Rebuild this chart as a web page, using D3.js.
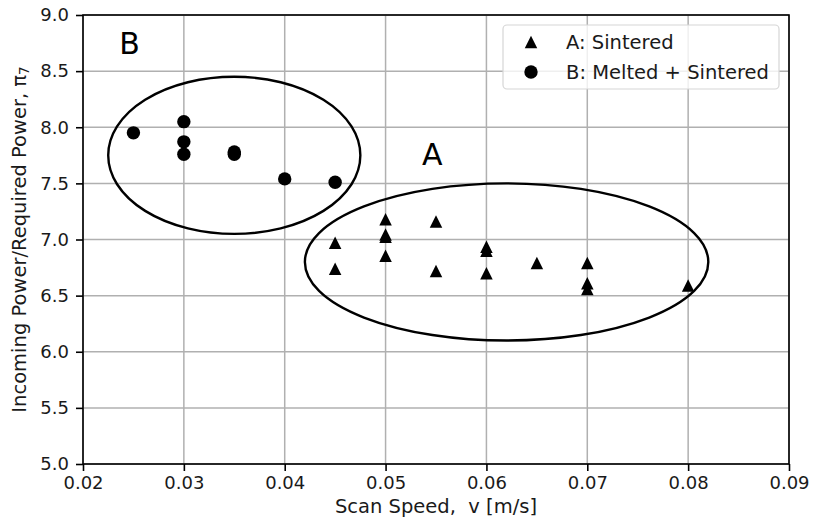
<!DOCTYPE html>
<html>
<head>
<meta charset="utf-8">
<script src="https://cdn.jsdelivr.net/npm/d3@7/dist/d3.min.js"></script>
<style>
  html, body { margin: 0; padding: 0; background: #fff; }
  svg { display: block; font-family: "DejaVu Sans", sans-serif; }
</style>
</head>
<body>
<svg id="chart" width="813" height="526"></svg>
<script>
// ---- Data ----
const speedA = [0.045, 0.045, 0.05, 0.05, 0.05, 0.05, 0.055, 0.055, 0.06, 0.06, 0.06, 0.065, 0.07, 0.07, 0.07, 0.08];
const powerA = [6.97, 6.74, 7.18, 7.045, 7.025, 6.855, 7.16, 6.72, 6.935, 6.90, 6.70, 6.79, 6.79, 6.61, 6.56, 6.59];
const speedB = [0.025, 0.03, 0.03, 0.03, 0.035, 0.035, 0.04, 0.045];
const powerB = [7.95, 8.05, 7.87, 7.76, 7.78, 7.76, 7.54, 7.51];
const seriesNames = ["A: Sintered", "B: Melted + Sintered"];
const xTicks = [0.02, 0.03, 0.04, 0.05, 0.06, 0.07, 0.08, 0.09];
const yTicks = [5.0, 5.5, 6.0, 6.5, 7.0, 7.5, 8.0, 8.5, 9.0];
// ellipses in data units: centre x, centre y, full width, full height
const ellipseCx = [0.035, 0.062];
const ellipseCy = [7.75, 6.80];
const ellipseW = [0.025, 0.040];
const ellipseH = [1.40, 1.40];
const regionLabels = ["B", "A"];
const regionLabelX = [0.0236, 0.0536];
const regionLabelY = [8.65, 7.66];
const xLabel = "Scan Speed,  v [m/s]";

// ---- Layout ----
const W = 813, H = 526;
const margin = {left: 83, right: 24, top: 15, bottom: 62};
const svg = d3.select("#chart");
const x = d3.scaleLinear().domain([0.02, 0.09]).range([margin.left, W - margin.right]);
const y = d3.scaleLinear().domain([5.0, 9.0]).range([H - margin.bottom, margin.top]);

// grid
const grid = svg.append("g");
grid.selectAll("line.gx").data(xTicks).join("line")
  .attr("x1", d => x(d)).attr("x2", d => x(d))
  .attr("y1", y(5)).attr("y2", y(9))
  .attr("stroke", "#b0b0b0").attr("stroke-width", 1.5);
grid.selectAll("line.gy").data(yTicks).join("line")
  .attr("y1", d => y(d)).attr("y2", d => y(d))
  .attr("x1", x(0.02)).attr("x2", x(0.09))
  .attr("stroke", "#b0b0b0").attr("stroke-width", 1.5);

// axes
const xAxis = svg.append("g")
  .attr("transform", `translate(0,${H - margin.bottom})`)
  .call(d3.axisBottom(x).tickValues(xTicks).tickFormat(d3.format(".2f")).tickSizeOuter(0).tickSize(7).tickPadding(5));
const yAxis = svg.append("g")
  .attr("transform", `translate(${margin.left},0)`)
  .call(d3.axisLeft(y).tickValues(yTicks).tickFormat(d3.format(".1f")).tickSizeOuter(0).tickSize(7).tickPadding(7));
[xAxis, yAxis].forEach(g => {
  g.select(".domain").remove();
  g.selectAll(".tick line").attr("stroke", "#000").attr("stroke-width", 1.6);
  g.selectAll(".tick text").attr("fill", "#1a1a1a")
    .style("font-family", "DejaVu Sans").style("font-size", "18px");
});

// frame
svg.append("rect")
  .attr("x", x(0.02)).attr("y", y(9))
  .attr("width", x(0.09) - x(0.02)).attr("height", y(5) - y(9))
  .attr("fill", "none").attr("stroke", "#000").attr("stroke-width", 1.6);

// ellipses
svg.append("g").selectAll("ellipse").data(ellipseCx).join("ellipse")
  .attr("cx", (d, i) => x(d))
  .attr("cy", (d, i) => y(ellipseCy[i]))
  .attr("rx", (d, i) => x(d + ellipseW[i] / 2) - x(d))
  .attr("ry", (d, i) => y(ellipseCy[i]) - y(ellipseCy[i] + ellipseH[i] / 2))
  .attr("fill", "none").attr("stroke", "#000").attr("stroke-width", 2.4);

// markers
const tri = d3.symbol().type(d3.symbolTriangle);
function triPath(s) {
  // equal width/height triangle of size s, centred on bbox
  const h = s / 2;
  return `M0,${-h}L${h},${h}L${-h},${h}Z`;
}
svg.append("g").selectAll("path").data(speedA).join("path")
  .attr("transform", (d, i) => `translate(${x(d)},${y(powerA[i])})`)
  .attr("d", triPath(12.5))
  .attr("fill", "#000");
svg.append("g").selectAll("circle").data(speedB).join("circle")
  .attr("cx", d => x(d)).attr("cy", (d, i) => y(powerB[i]))
  .attr("r", 6.7).attr("fill", "#000");

// region labels
svg.append("g").selectAll("text").data(regionLabels).join("text")
  .attr("x", (d, i) => x(regionLabelX[i]))
  .attr("y", (d, i) => y(regionLabelY[i]))
  .style("font-size", "30px").attr("fill", "#000")
  .text(d => d);

// axis labels
svg.append("text")
  .attr("x", (x(0.02) + x(0.09)) / 2).attr("y", 513)
  .attr("text-anchor", "middle").style("font-size", "19.5px").attr("fill", "#1a1a1a")
  .style("white-space", "pre").attr("xml:space", "preserve")
  .text(xLabel);
const yl = svg.append("text")
  .attr("transform", `translate(26,${(y(5) + y(9)) / 2}) rotate(-90)`)
  .attr("text-anchor", "middle").style("font-size", "19.5px").attr("fill", "#1a1a1a");
yl.append("tspan").text("Incoming Power/Required Power, π");
yl.append("tspan").attr("dy", "0.25em").style("font-size", "13.5px").text("7");

// legend
const lg = svg.append("g");
lg.append("rect")
  .attr("x", 503).attr("y", 25).attr("width", 276).attr("height", 64)
  .attr("rx", 4).attr("fill", "#fff").attr("fill-opacity", 0.8)
  .attr("stroke", "#d6d6d6").attr("stroke-width", 1.2);
const rows = lg.selectAll("g.row").data(seriesNames).join("g")
  .attr("transform", (d, i) => `translate(531,${42 + i * 30})`);
rows.each(function(d, i) {
  const g = d3.select(this);
  if (i === 0) g.append("path").attr("d", triPath(12.5)).attr("fill", "#000");
  else g.append("circle").attr("r", 6.7).attr("fill", "#000");
  g.append("text").attr("x", 35).attr("y", 0).attr("dy", "0.36em")
    .style("font-size", "19.5px").attr("fill", "#1a1a1a").text(d);
});
</script>
</body>
</html>
